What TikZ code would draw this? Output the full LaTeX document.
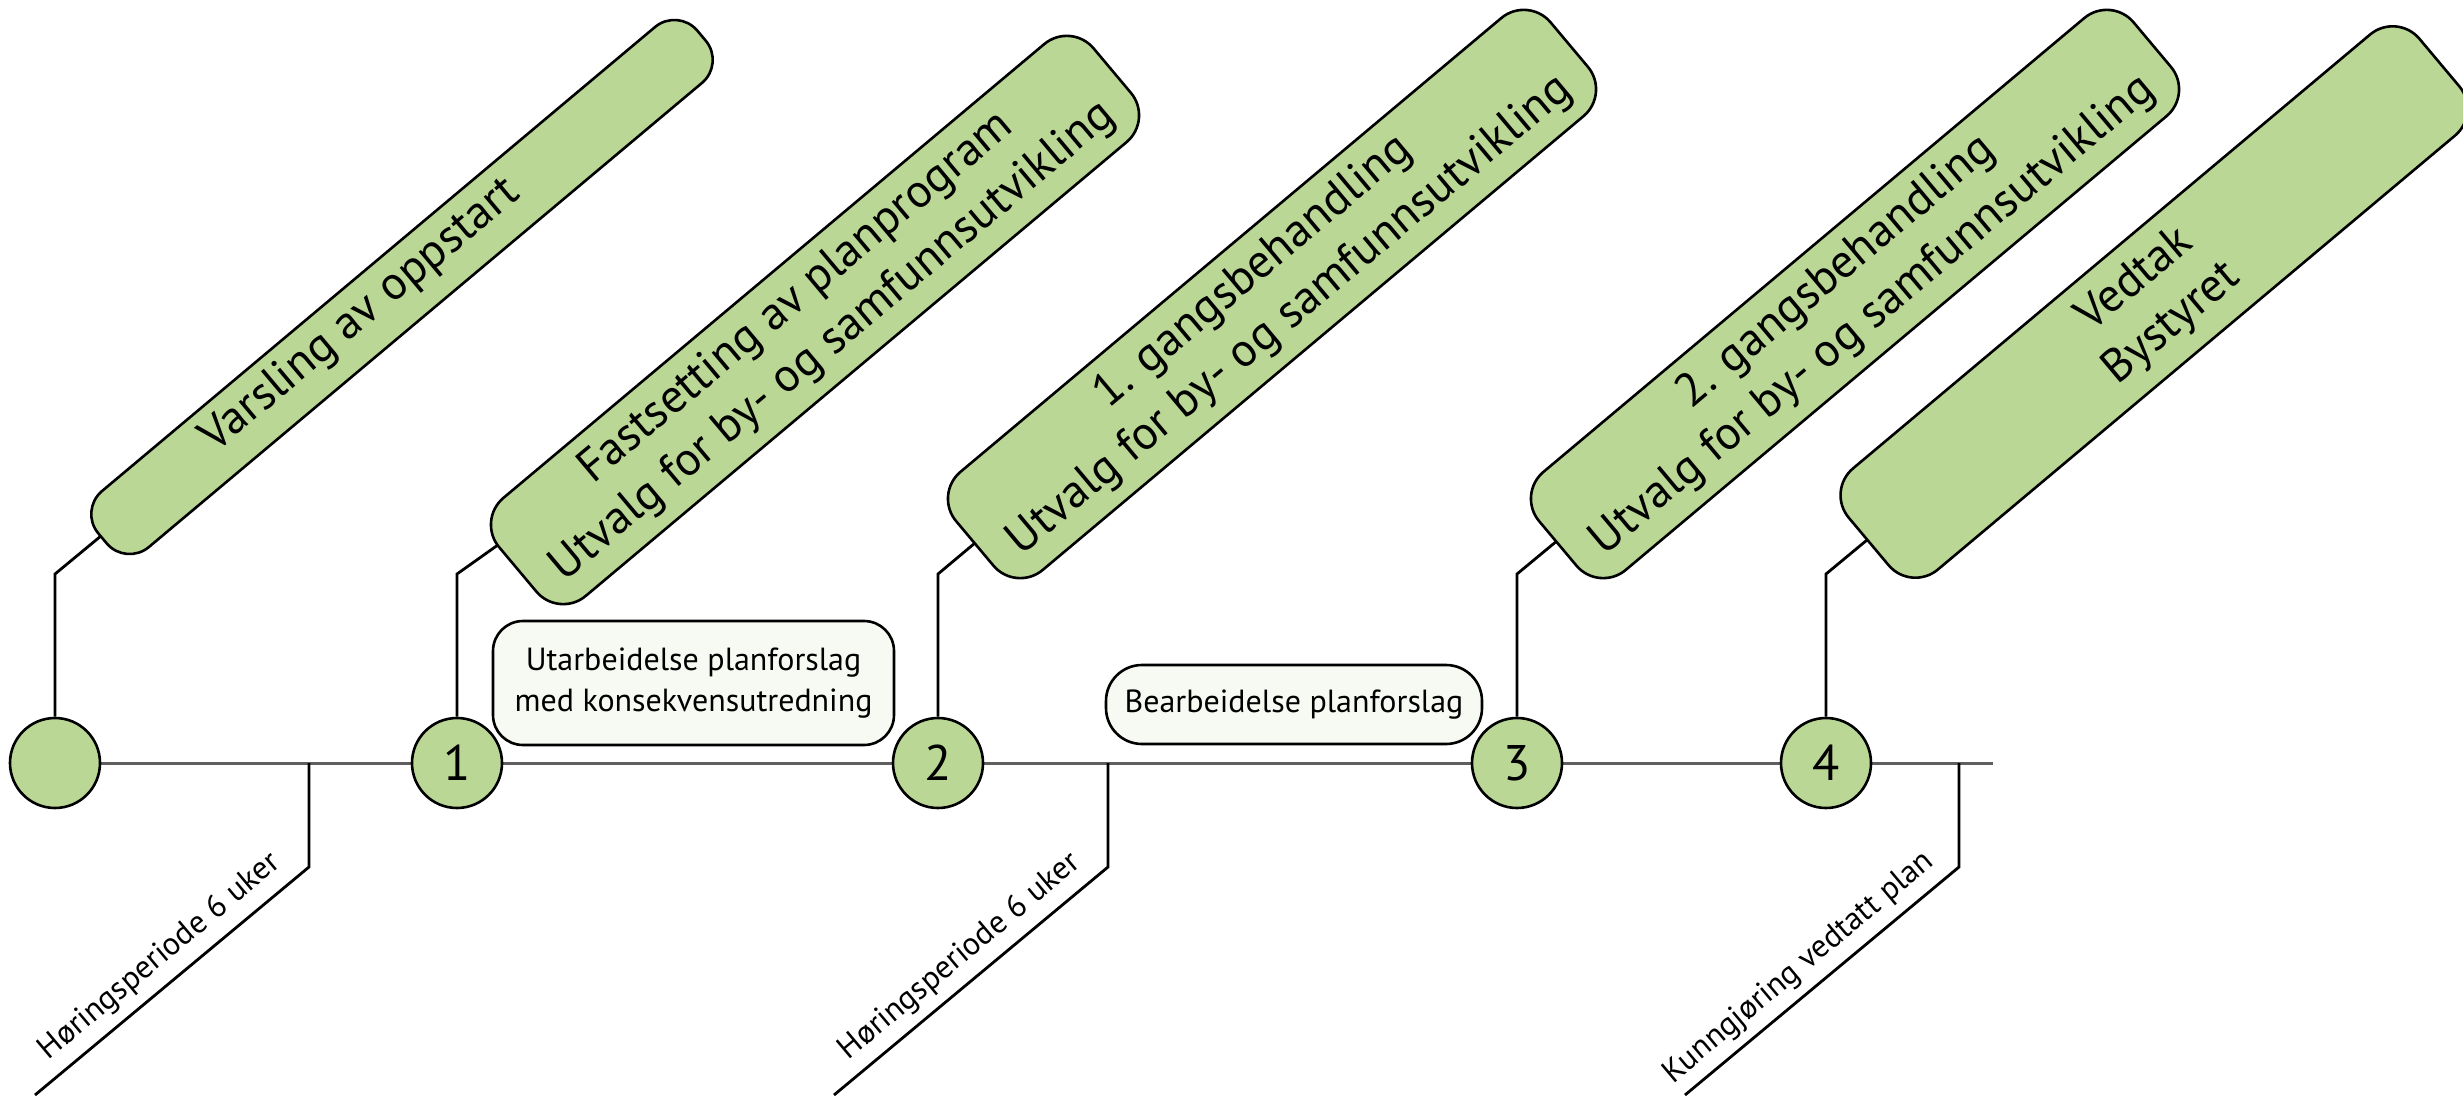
\documentclass[tikz,border=0pt]{standalone}
\usepackage{fontspec}
\setmainfont{PT Sans}
\usetikzlibrary{calc}
\pgfdeclarelayer{bg}
\pgfsetlayers{bg,main}
\definecolor{grn}{RGB}{186,215,150}
\definecolor{pale}{RGB}{247,250,242}
\definecolor{tlgray}{RGB}{95,95,95}
\begin{document}
\begin{tikzpicture}[x=1pt,y=-1pt,
  bigbox/.style={draw=black, line width=2.6pt, fill=grn, rounded corners=35pt, rotate=40,
    minimum width=776pt, minimum height=128pt, align=center, inner sep=0pt,
    font=\fontsize{47}{57}\selectfont},
  dot/.style={circle, draw=black, line width=2.6pt, fill=grn, minimum size=90pt, inner sep=0pt,
    font=\fontsize{50}{50}\selectfont},
  pbox/.style={draw=black, line width=2.6pt, fill=pale, inner sep=0pt, align=center,
    font=\fontsize{32}{41}\selectfont},
  conn/.style={draw=black, line width=2.8pt},
  tline/.style={draw=tlgray, line width=3pt},
  lab/.style={rotate=40, inner sep=0pt, font=\fontsize{32}{36}\selectfont}]
\useasboundingbox (0,0) rectangle (2463,1097);

% milestones
\node[dot] (c0) at (55,763) {};
\node[dot] (c1) at (457,763) {1};
\node[dot] (c2) at (938,763) {2};
\node[dot] (c3) at (1517,763) {3};
\node[dot] (c4) at (1826,763) {4};
\coordinate (tend) at (1993,763);

% big tilted boxes
\node[bigbox, minimum width=782pt, minimum height=73pt, rounded corners=30pt] (b0) at (402,287) {};
\node[rotate=40, inner sep=0pt, font=\fontsize{47}{57}\selectfont] (t0) at (361,316) {Varsling av oppstart};
\node[bigbox] (b1) at (815,320) {Fastsetting av planprogram\\Utvalg for by- og samfunnsutvikling};
\node[bigbox] (b2) at (1272,294) {1. gangsbehandling\\Utvalg for by- og samfunnsutvikling};
\node[bigbox] (b3) at (1855,294) {2. gangsbehandling\\Utvalg for by- og samfunnsutvikling};
\node[bigbox, minimum width=745pt, minimum height=132pt] (b4) at (2154,302) {Vedtak\\Bystyret};

% process boxes
\node[pbox, minimum width=401pt, minimum height=124pt, rounded corners=30pt] (s1) at (693.5,683)
  {Utarbeidelse planforslag\\med konsekvensutredning};
\node[pbox, minimum width=376pt, minimum height=79pt, rounded corners=36pt] (s2) at (1294,704.5)
  {Bearbeidelse planforslag};

% lower labels
\coordinate (h1) at (309,763);
\coordinate (h2) at (1108,763);
\coordinate (h3) at (1959,763);
\node[lab] (l1) at (160,957) {Høringsperiode 6 uker};
\node[lab] (l2) at (960,957) {Høringsperiode 6 uker};
\node[lab] (l3) at (1799,968) {Kunngjøring vedtatt plan};

\begin{pgfonlayer}{bg}
  \draw[tline] (c0.center) -- (c1.center) -- (c2.center) -- (c3.center) -- (c4.center) -- (tend);
  \draw[conn] (c0.north) -- (55,574) -- (b0.center);
  \draw[conn] (c1.north) -- (457,574) -- (b1.center);
  \draw[conn] (c2.north) -- (938,574) -- (b2.center);
  \draw[conn] (c3.north) -- (1517,574) -- (b3.center);
  \draw[conn] (c4.north) -- (1826,574) -- (b4.center);
  \draw[conn] (h1) -- ++(0,104) -- ++(-274,228);
  \draw[conn] (h2) -- ++(0,104) -- ++(-274,228);
  \draw[conn] (h3) -- ++(0,104) -- ++(-274,228);
\end{pgfonlayer}
\end{tikzpicture}
\end{document}
